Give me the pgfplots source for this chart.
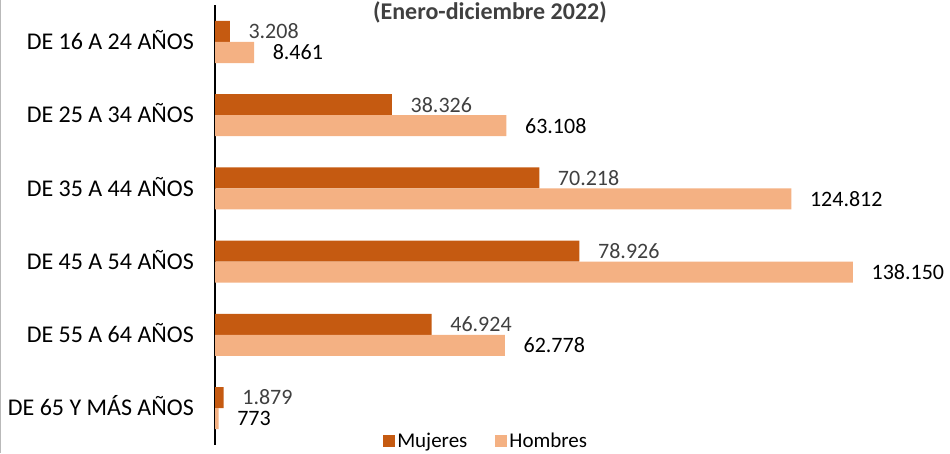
\documentclass[border=0pt]{standalone}
\usepackage{fontspec}
\setmainfont{Carlito}
\usepackage{pgfplots}
\pgfplotsset{compat=1.18}
\definecolor{mujer}{HTML}{C55A11}
\definecolor{hombre}{HTML}{F4B183}
\definecolor{lbl}{HTML}{404040}
\begin{document}
\begin{tikzpicture}
\begin{axis}[
  at={(215pt,8.4pt)}, anchor=south west,
  scale only axis, width=669.6pt, height=439.2pt,
  xmin=0, xmax=145000, ymin=-0.5, ymax=5.5,
  hide x axis,
  axis y line*=left,
  y axis line style={black, line width=1.4pt},
  ytick={0,1,2,3,4,5},
  yticklabels={DE 65 Y MÁS AÑOS, DE 55 A 64 AÑOS, DE 45 A 54 AÑOS, DE 35 A 44 AÑOS, DE 25 A 34 AÑOS, DE 16 A 24 AÑOS},
  major tick length=0pt,
  ytick style={draw=none},
  yticklabel style={anchor=east, inner sep=0pt, xshift=-21pt, text height=15.4pt, text depth=0pt, font=\fontsize{24}{28}\selectfont, black},
  /pgf/number format/assume math mode=true,
  xbar, bar width=21pt,
  nodes near coords={\pgfmathprintnumber[fixed,precision=0,1000 sep={.}]{\pgfplotspointmeta}},
  every node near coord/.append style={anchor=west, inner sep=0pt, xshift=18.5pt, font=\fontsize{22}{26}\selectfont},
  legend image code/.code={\fill[#1] (0pt,-6pt) rectangle (12pt,6pt);},
  legend style={at={(0.405,0.009)}, anchor=center, draw=none, fill=none, legend columns=2,
    font=\fontsize{21}{25}\selectfont, nodes={inner sep=2pt},
    /tikz/every even column/.append style={column sep=26pt}},
  legend cell align=left,
  clip=false,
]
\addplot[fill=mujer, draw=none, bar shift=10.5pt, every node near coord/.append style={lbl}]
  coordinates {(3208,5) (38326,4) (70218,3) (78926,2) (46924,1) (1879,0)};
\addlegendentry{Mujeres}
\addplot[fill=hombre, draw=none, bar shift=-10.5pt, every node near coord/.append style={black}]
  coordinates {(8461,5) (63108,4) (124812,3) (138150,2) (62778,1) (773,0)};
\addlegendentry{Hombres}
\end{axis}
\node[anchor=base, font=\fontsize{24}{28}\selectfont\bfseries, text=lbl, inner sep=0pt] at (490pt,433pt) {(Enero-diciembre 2022)};
\draw[gray!55, line width=1pt] (0.5pt,0pt) -- (0.5pt,453pt);
\pgfresetboundingbox
\useasboundingbox (0pt,0pt) rectangle (950pt,453pt);
\end{tikzpicture}
\end{document}
